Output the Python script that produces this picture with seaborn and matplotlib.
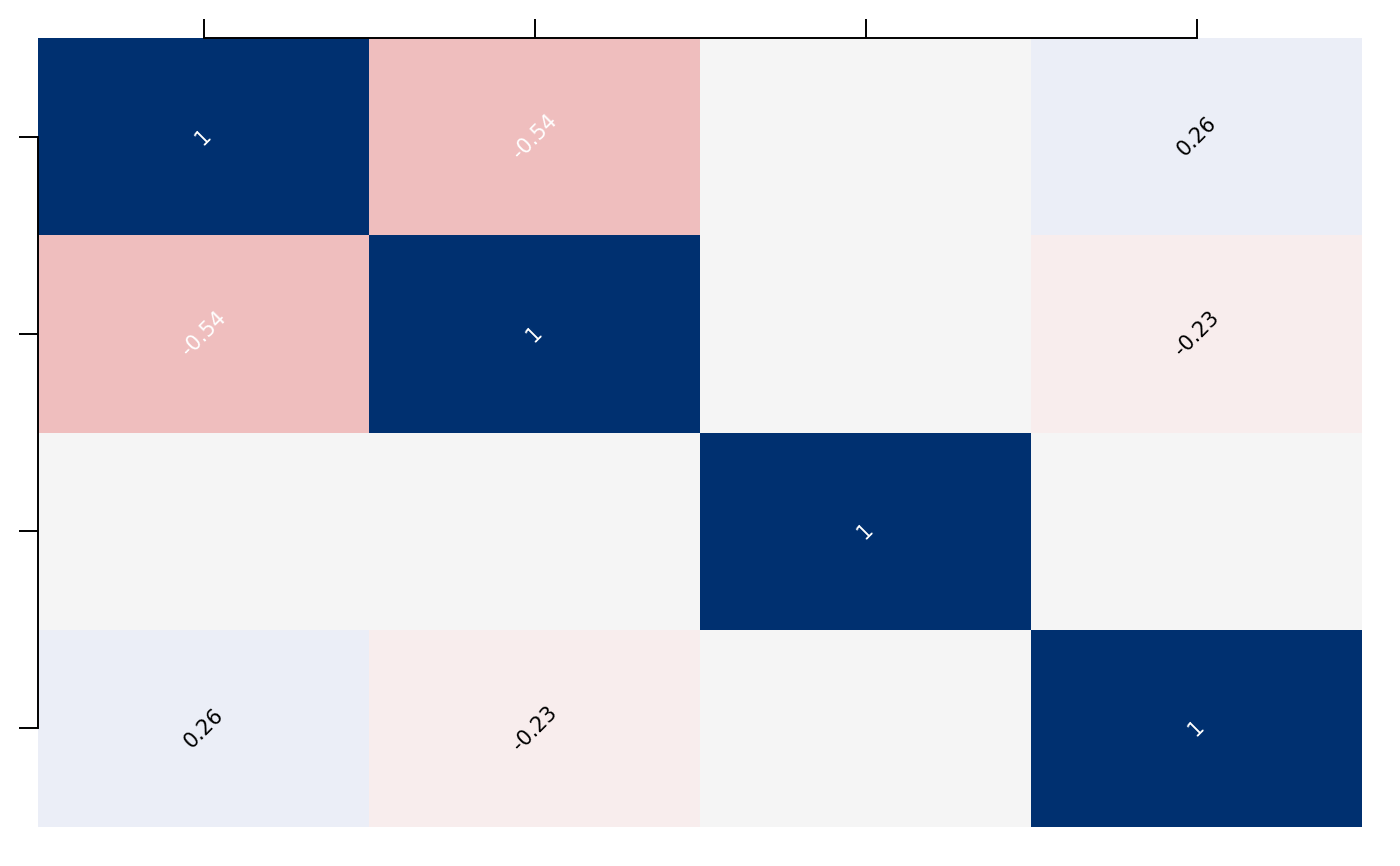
import matplotlib
matplotlib.use("Agg")
import matplotlib.pyplot as plt
from matplotlib.colors import LinearSegmentedColormap
import seaborn as sns
import pandas as pd

# variables and correlation values
variables = ["v1", "v2", "v3", "v4"]
row_v1 = [1.0, -0.54, 0.0, 0.26]
row_v2 = [-0.54, 1.0, 0.0, -0.23]
row_v3 = [0.0, 0.0, 1.0, 0.0]
row_v4 = [0.26, -0.23, 0.0, 1.0]

corr = pd.DataFrame([row_v1, row_v2, row_v3, row_v4], index=variables, columns=variables)

# annotation labels, zeros left blank
labels = corr.map(lambda v: "" if v == 0 else "{:g}".format(v))

# diverging map, red (neg) -> light grey -> navy (pos)
nodes = [
    (0.0, "#d86a6a"),
    (0.23, "#efbfbf"),
    (0.385, "#f8eded"),
    (0.5, "#f5f5f5"),
    (0.63, "#eceff8"),
    (1.0, "#003070"),
]
cmap = LinearSegmentedColormap.from_list("corr", nodes)

sns.set_style("ticks")
fig = plt.figure(figsize=(14, 8.66), dpi=100)
ax = fig.add_axes([38 / 1400, 39 / 866, 1324 / 1400, 789 / 866])

sns.heatmap(corr, ax=ax, cmap=cmap, vmin=-1, vmax=1, cbar=False,
            annot=labels, fmt="", annot_kws={"fontsize": 15, "rotation": 45})

# white text on the strong cells
for txt in ax.texts:
    s = txt.get_text()
    if s and abs(float(s)) >= 0.5:
        txt.set_color("white")
    else:
        txt.set_color("black")

ax.set_xticklabels([])
ax.set_yticklabels([])
ax.set_xlabel("")
ax.set_ylabel("")

sns.despine(ax=ax, top=False, left=False, bottom=True, right=True, trim=True)

# ticks on top and left only
ax.tick_params(axis="x", top=True, bottom=False, labeltop=False, labelbottom=False)
ax.tick_params(axis="y", left=True, right=False, labelleft=False)
ax.tick_params(axis="both", length=14, width=1.4, color="black")
for side in ["top", "left"]:
    ax.spines[side].set_visible(True)
    ax.spines[side].set_linewidth(1.4)
    ax.spines[side].set_color("black")

fig.savefig("out.png", dpi=100)
